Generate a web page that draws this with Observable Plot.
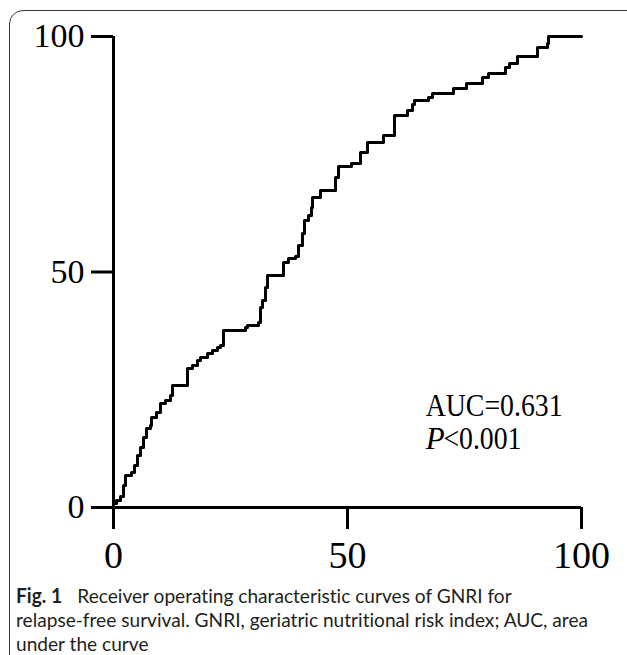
<!DOCTYPE html>
<html>
<head>
<meta charset="utf-8">
<script src="https://cdn.jsdelivr.net/npm/d3@7"></script>
<script src="https://cdn.jsdelivr.net/npm/@observablehq/plot@0.6"></script>
<style>
  html, body { margin: 0; padding: 0; background: #fff; width: 627px; height: 655px; overflow: hidden; }
  #frame { position: absolute; left: 9px; top: 10px; width: 640px; height: 700px;
           border: 1.3px solid #3a3a3a; border-radius: 14px; box-sizing: border-box; }
  #chart { position: absolute; left: 0; top: 0; }
  #caption { position: absolute; left: 16px; top: 583px; font-family: Lato, "Noto Sans", sans-serif;
             font-size: 20px; line-height: 24px; color: #231f20; white-space: nowrap; transform-origin: 0 0;
             font-variant-ligatures: none; font-feature-settings: "liga" 0, "clig" 0; }
  #caption div { height: 24px; }
  #caption b { font-weight: 700; }
  #caption .gap { display: inline-block; width: 16px; }
</style>
</head>
<body>
<div id="frame"></div>
<div id="chart"></div>
<div id="caption"><div><span id="l1"><b>Fig. 1</b><span class="gap"></span>Receiver operating characteristic curves of GNRI for</span></div><div><span id="l2">relapse-free survival. GNRI, geriatric nutritional risk index; AUC, area</span></div><div><span id="l3">under the curve</span></div></div>
<script>
// ROC curve vertices (1 - specificity, sensitivity), in percent
const fpr = [0, 0, 0.64, 1.50, 2.14, 2.56, 3.85, 4.49, 5.13, 5.77, 6.41, 7.05, 7.91, 8.12, 9.19, 10.04, 11.11, 12.18, 12.61,
  15.81, 16.88, 17.95, 18.59, 20.09, 21.15, 22.22, 22.86, 23.50, 28.21, 28.63, 30.98, 31.41, 31.84, 32.48, 32.91,
  36.32, 37.39, 38.89, 39.53, 40.38, 40.81, 41.67, 42.31, 42.52, 44.23, 47.44, 48.08, 50.85, 52.78, 54.27, 57.69,
  60.04, 62.82, 63.89, 64.32, 67.31, 68.16, 72.65, 75.43, 78.85, 80.13, 83.76, 84.62, 86.32, 90.60, 92.74, 92.95, 100];
const tpr = [0, 0.85, 1.49, 2.34, 4.67, 6.79, 7.43, 8.92, 11.04, 12.74, 14.86, 16.77, 17.41, 19.11, 20.17, 22.08, 22.72, 23.78, 25.90,
  29.51, 30.15, 31.21, 31.85, 32.70, 33.33, 33.97, 34.39, 37.58, 38.22, 38.64, 39.28, 42.46, 43.95, 46.71, 49.26,
  52.02, 52.87, 53.29, 55.63, 58.17, 60.93, 62.00, 63.69, 65.82, 67.30, 70.06, 72.40, 73.04, 75.37, 77.49, 78.98,
  83.23, 84.29, 85.56, 86.41, 87.05, 87.90, 88.96, 90.02, 91.30, 92.14, 93.42, 94.27, 95.75, 97.66, 98.51, 100, 100];
const xTicks = [0, 50, 100];
const yTicks = [0, 50, 100];
const aucLabel = "AUC=0.631";
const pLabelItalic = "P";
const pLabelRest = "<0.001";

const roc = fpr.map((x, i) => ({x, y: tpr[i]}));

const serif = "'Liberation Serif', 'Times New Roman', Times, serif";

const plot = Plot.plot({
  width: 627,
  height: 580,
  marginLeft: 113,
  marginRight: 46,
  marginTop: 36,
  marginBottom: 73,
  x: {domain: [0, 100]},
  y: {domain: [0, 100]},
  style: {fontFamily: serif, background: "transparent", color: "#000", overflow: "visible"},
  marks: [
    Plot.axisX(xTicks, {tickSize: 22, tickPadding: 12, fontSize: 38, strokeWidth: 3, label: null, stroke: "#000", fill: "#000"}),
    Plot.axisY(yTicks, {tickSize: 22, tickPadding: 7, fontSize: 34, strokeWidth: 3, label: null, stroke: "#000", fill: "#000"}),
    Plot.ruleX([0], {strokeWidth: 3, stroke: "#000"}),
    Plot.ruleY([0], {strokeWidth: 3, stroke: "#000"}),
    Plot.line(roc, {x: "x", y: "y", curve: "step-after", strokeWidth: 3, stroke: "#000"}),
    Plot.text([aucLabel], {x: 66.7, y: 21.6, text: d => d, textAnchor: "start", lineAnchor: "middle", fontSize: 31, fill: "#000", className: "auc"}),
    Plot.text([pLabelItalic], {x: 66.7, y: 14.6, text: d => d, textAnchor: "start", lineAnchor: "middle", fontSize: 31, fontStyle: "italic", fill: "#000", className: "pi"}),
    Plot.text([pLabelRest], {x: 70.5, y: 14.6, text: d => d, textAnchor: "start", lineAnchor: "middle", fontSize: 31, fill: "#000", className: "pr"})
  ]
});
document.getElementById("chart").appendChild(plot);

// fit annotation widths to the reference
function fit(cls, w) {
  plot.querySelectorAll("g." + cls + " text").forEach(t => {
    t.setAttribute("textLength", w);
    t.setAttribute("lengthAdjust", "spacingAndGlyphs");
  });
}
fit("auc", 137);
fit("pr", 78);

// fit caption width (uniform horizontal condensing, like the reference face)
const cap = document.getElementById("caption");
const wl2 = document.getElementById("l2").getBoundingClientRect().width;
cap.style.transform = `scaleX(${572 / wl2})`;
</script>
</body>
</html>
